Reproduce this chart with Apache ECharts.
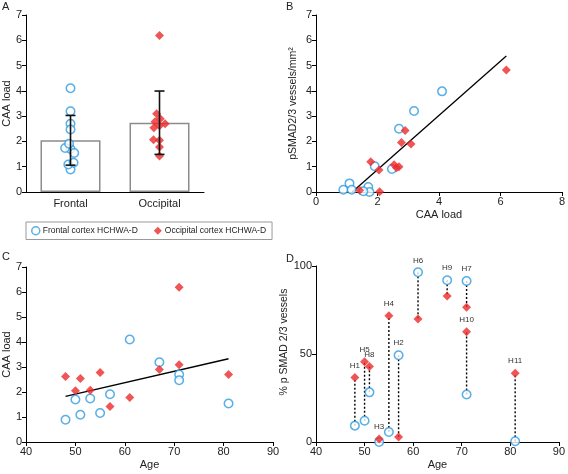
<!DOCTYPE html>
<html>
<head>
<meta charset="utf-8">
<script src="https://cdn.jsdelivr.net/npm/echarts@6/dist/echarts.min.js"></script>
<style>
html,body{margin:0;padding:0;background:#fff;}
#chart{width:568px;height:474px;}
</style>
</head>
<body>
<div id="chart"></div>
<script>
// ---- data (ordered by patient age) ----
const patients = ['H1','H5','H8','H3','H4','H2','H6','H9','H7','H10','H11'];
const ages = [48,50,51,53,55,57,61,67,71,71,81];
const frontalCAA   = [0.89,1.70,1.09,1.74,1.16,1.91,4.10,3.19,2.70,2.47,1.54];
const occipitalCAA = [2.62,2.05,2.54,2.07,2.78,1.42,1.78,2.90,6.19,3.09,2.70];
const frontalPSMAD   = [0.09,0.20,0.34,0.00,0.09,1.02,3.98,3.20,2.50,0.91,0.03];
const occipitalPSMAD = [0.96,0.87,1.08,0.01,1.96,0.07,1.20,2.43,4.82,1.90,1.00];
const frontalPct   = [9.3,12.1,28.2,0.0,5.7,49.3,96.4,91.9,91.5,27.0,0.4];
const occipitalPct = [36.7,45.6,42.9,1.7,71.8,2.8,69.9,83.0,76.6,62.6,39.1];
const regions = ['Frontal','Occipital'];
const seriesNames = ['Frontal cortex HCHWA-D','Occipital cortex HCHWA-D'];

// ---- helpers ----
const BLUE = '#2e9be0', RED = '#ec2a2c';
function mean(a){return a.reduce((s,v)=>s+v,0)/a.length;}
function sd(a){const m=mean(a);return Math.sqrt(a.reduce((s,v)=>s+(v-m)*(v-m),0)/(a.length-1));}
function fit(xs, ys){
  const mx=mean(xs), my=mean(ys);
  let sxy=0,sxx=0;
  for(let i=0;i<xs.length;i++){sxy+=(xs[i]-mx)*(ys[i]-my);sxx+=(xs[i]-mx)*(xs[i]-mx);}
  const a=sxy/sxx; return {a:a,b:my-a*mx};
}
function zip(a,b){return a.map((v,i)=>[v,b[i]]);}

const FONT = 'Liberation Sans';
const txt = {color:'#222', fontSize:11, fontFamily:FONT};
function axisBase(extra){
  return Object.assign({
    axisLine:{show:true,onZero:false,lineStyle:{color:'#000',width:1}},
    axisTick:{show:true,length:4,lineStyle:{color:'#000'}},
    axisLabel:Object.assign({margin:4},txt),
    splitLine:{show:false},
    nameTextStyle:Object.assign({},txt),
    nameLocation:'middle'
  }, extra);
}

// Panel A stats
const stats = [frontalCAA, occipitalCAA].map((a,i)=>[i, mean(a), mean(a)-sd(a), mean(a)+sd(a)]);

// Panel B regression
const bx = frontalCAA.concat(occipitalCAA), by = frontalPSMAD.concat(occipitalPSMAD);
const fb = fit(bx, by);
const bx0 = Math.max(Math.min(...bx), -fb.b/fb.a), bx1 = Math.max(...bx);
const lineB = [[bx0, fb.a*bx0+fb.b],[bx1, fb.a*bx1+fb.b]];

// Panel C regression
const cx = ages.concat(ages), cy = frontalCAA.concat(occipitalCAA);
const fc = fit(cx, cy);
const cx0 = Math.min(...cx), cx1 = Math.max(...cx);
const lineC = [[cx0, fc.a*cx0+fc.b],[cx1, fc.a*cx1+fc.b]];

const frontalStyle = {symbol:'circle', symbolSize:8.5, itemStyle:{color:'#fff', borderColor:BLUE, borderWidth:1.5}};
const occStyle = {symbol:'diamond', symbolSize:9, itemStyle:{color:RED}};

const chart = echarts.init(document.getElementById('chart'), null, {renderer:'canvas'});
const option = {
  animation:false,
  backgroundColor:'#fff',
  textStyle:{fontFamily:FONT},
  legend:{
    left:26, top:222, selectedMode:false, orient:'horizontal',
    itemWidth:8, itemHeight:8, itemGap:16,
    padding:[4,6,4,5],
    borderColor:'#999', borderWidth:1,
    textStyle:{fontSize:8.5, color:'#222', fontFamily:FONT, padding:[0,0,0,-2]},
    data:[
      {name:seriesNames[0], icon:'circle', itemStyle:{color:'#fff', borderColor:BLUE, borderWidth:1.5}},
      {name:seriesNames[1], icon:'diamond', itemStyle:{color:RED}}
    ]
  },
  graphic:[
    {type:'text', left:2, top:1, style:{text:'A', fontSize:11, fill:'#222', fontFamily:FONT}},
    {type:'text', left:286, top:1, style:{text:'B', fontSize:11, fill:'#222', fontFamily:FONT}},
    {type:'text', left:2, top:251, style:{text:'C', fontSize:11, fill:'#222', fontFamily:FONT}},
    {type:'text', left:286, top:253, style:{text:'D', fontSize:11, fill:'#222', fontFamily:FONT}}
  ],
  grid:[
    {left:26, top:15, width:178, height:177},
    {left:316, top:15, width:247, height:177},
    {left:26, top:267, width:247, height:175},
    {left:316, top:266, width:245, height:176}
  ],
  xAxis:[
    axisBase({gridIndex:0, type:'category', data:regions, boundaryGap:true,
      axisTick:{show:false}, axisLabel:Object.assign({margin:6},txt),
      jitter:18, jitterOverlap:false, jitterMargin:-3}),
    axisBase({gridIndex:1, type:'value', min:0, max:8, interval:2, name:'CAA load', nameGap:17}),
    axisBase({gridIndex:2, type:'value', min:40, max:90, interval:10, name:'Age', nameGap:17}),
    axisBase({gridIndex:3, type:'value', min:40, max:90, interval:10, name:'Age', nameGap:17})
  ],
  yAxis:[
    axisBase({gridIndex:0, type:'value', min:0, max:7, interval:1, name:'CAA load', nameGap:14}),
    axisBase({gridIndex:1, type:'value', min:0, max:7, interval:1, name:'pSMAD2/3 vessels/mm²', nameGap:17,
      nameTextStyle:Object.assign({}, txt, {fontSize:10.5})}),
    axisBase({gridIndex:2, type:'value', min:0, max:7, interval:1, name:'CAA load', nameGap:14}),
    axisBase({gridIndex:3, type:'value', min:0, max:100, interval:50, name:'% p SMAD 2/3 vessels', nameGap:20,
      nameTextStyle:Object.assign({}, txt, {fontSize:10.5, padding:[0,0,0,24]})})
  ],
  series:[
    // Panel A
    {type:'bar', xAxisIndex:0, yAxisIndex:0, barWidth:60, z:1, silent:true,
      itemStyle:{color:'#fff', borderColor:'#8c8c8c', borderWidth:1.5},
      data:stats.map(s=>s[1])},
    Object.assign({type:'scatter', name:seriesNames[0], xAxisIndex:0, yAxisIndex:0, z:3,
      data:frontalCAA.map(v=>[0,v])}, frontalStyle),
    Object.assign({type:'scatter', name:seriesNames[1], xAxisIndex:0, yAxisIndex:0, z:3,
      data:occipitalCAA.map(v=>[1,v])}, occStyle),
    {type:'custom', xAxisIndex:0, yAxisIndex:0, z:5, silent:true, data:stats,
      renderItem:function(params, api){
        const x=api.value(0);
        const lo=api.coord([x, api.value(2)]), hi=api.coord([x, api.value(3)]);
        const w=5, st={stroke:'#111', lineWidth:1.6};
        return {type:'group', children:[
          {type:'line', shape:{x1:lo[0],y1:lo[1],x2:hi[0],y2:hi[1]}, style:st},
          {type:'line', shape:{x1:lo[0]-w,y1:lo[1],x2:lo[0]+w,y2:lo[1]}, style:st},
          {type:'line', shape:{x1:hi[0]-w,y1:hi[1],x2:hi[0]+w,y2:hi[1]}, style:st}
        ]};
      }},
    // Panel B
    {type:'line', xAxisIndex:1, yAxisIndex:1, data:lineB, symbol:'none', z:2, silent:true,
      lineStyle:{color:'#000', width:1.3}},
    Object.assign({type:'scatter', name:seriesNames[0], xAxisIndex:1, yAxisIndex:1, z:3,
      data:zip(frontalCAA, frontalPSMAD)}, frontalStyle),
    Object.assign({type:'scatter', name:seriesNames[1], xAxisIndex:1, yAxisIndex:1, z:3,
      data:zip(occipitalCAA, occipitalPSMAD)}, occStyle),
    // Panel C
    {type:'line', xAxisIndex:2, yAxisIndex:2, data:lineC, symbol:'none', z:2, silent:true,
      lineStyle:{color:'#000', width:1.3}},
    Object.assign({type:'scatter', name:seriesNames[0], xAxisIndex:2, yAxisIndex:2, z:3,
      data:zip(ages, frontalCAA)}, frontalStyle),
    Object.assign({type:'scatter', name:seriesNames[1], xAxisIndex:2, yAxisIndex:2, z:3,
      data:zip(ages, occipitalCAA)}, occStyle),
    // Panel D
    {type:'custom', xAxisIndex:3, yAxisIndex:3, z:2, silent:true,
      data:ages.map((a,i)=>[a, frontalPct[i], occipitalPct[i]]),
      renderItem:function(params, api){
        const p1=api.coord([api.value(0), api.value(1)]), p2=api.coord([api.value(0), api.value(2)]);
        return {type:'line', shape:{x1:p1[0],y1:p1[1],x2:p2[0],y2:p2[1]},
          style:{stroke:'#000', lineWidth:1.4, lineDash:[2,2]}};
      }},
    Object.assign({type:'scatter', name:seriesNames[0], xAxisIndex:3, yAxisIndex:3, z:3,
      data:zip(ages, frontalPct)}, frontalStyle),
    Object.assign({type:'scatter', name:seriesNames[1], xAxisIndex:3, yAxisIndex:3, z:3,
      data:zip(ages, occipitalPct)}, occStyle),
    {type:'custom', xAxisIndex:3, yAxisIndex:3, z:4, silent:true,
      data:ages.map((a,i)=>[a, Math.max(frontalPct[i], occipitalPct[i]), i]),
      renderItem:function(params, api){
        const p=api.coord([api.value(0), api.value(1)]);
        return {type:'text', x:p[0], y:p[1]-8,
          style:{text:patients[api.value(2)], fontSize:8, fill:'#333', fontFamily:FONT,
            align:'center', verticalAlign:'bottom'}};
      }}
  ]
};
chart.setOption(option);
</script>
</body>
</html>
